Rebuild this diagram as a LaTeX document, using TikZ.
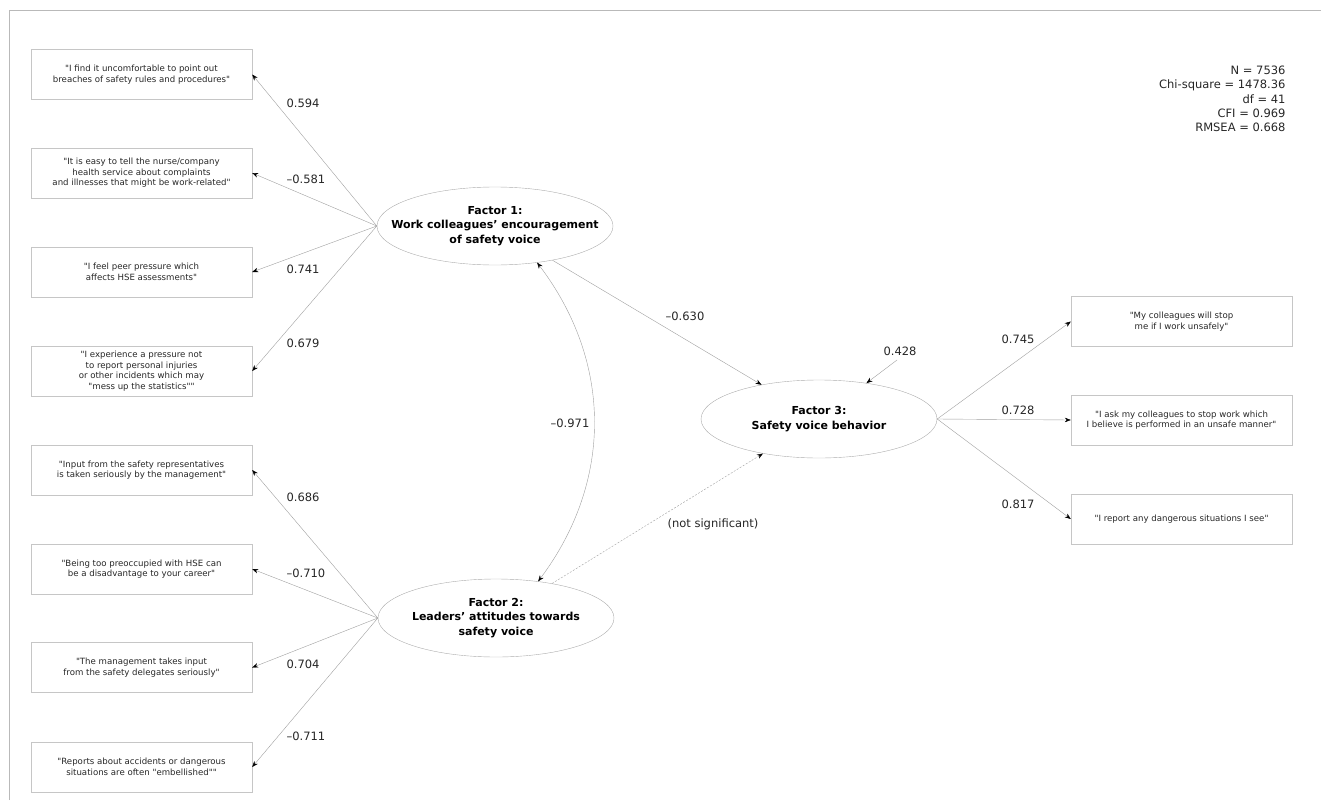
\documentclass[tikz,border=0pt]{standalone}
\usepackage{fontspec}
\setmainfont{DejaVu Sans}
\usetikzlibrary{shapes.geometric,arrows.meta}
\newcommand{\qmark}{\textquotedbl}

\begin{document}
\begin{tikzpicture}[x=1pt,y=-1pt,
  item/.style={draw=gray!45,minimum width=221pt,minimum height=50pt,
    inner sep=0pt,align=center,text=black!85,
    font=\fontsize{8.6}{10.5}\selectfont},
  factor/.style={draw=gray!65,ellipse,minimum width=236pt,
    minimum height=78pt,inner sep=0pt},
  factortext/.style={align=center,font=\fontsize{11}{14.5}\selectfont\bfseries},
  coef/.style={font=\fontsize{11.5}{14}\selectfont,text=black!85},
  load/.style={draw=gray!75,-{Stealth[length=6pt,width=4.5pt,black]}},
  cov/.style={draw=gray!75,{Stealth[length=6pt,width=4.5pt,black]}-{Stealth[length=6pt,width=4.5pt,black]}}]
  \useasboundingbox (0,0) rectangle (1321,800);
  \draw[gray!55] (9,800) -- (9,10) -- (1321,10);

  % fit statistics
  \node[coef,align=right,anchor=east,font=\fontsize{11.5}{14.4}\selectfont]
    (fit) at (1289,99) {N = 7536\\Chi-square = 1478.36\\df = 41\\CFI = 0.969\\RMSEA = 0.668};

  % factors
  \node[factor] (f1) at (495,226) {};
  \node[factortext] (f1t) at (f1) {Factor 1:\\Work colleagues’ encouragement\\of safety voice};
  \node[factor] (f2) at (496,618) {};
  \node[factortext] (f2t) at (f2) {Factor 2:\\Leaders’ attitudes towards\\safety voice};
  \node[factor] (f3) at (819,419) {};
  \node[factortext] (f3t) at (f3) {Factor 3:\\Safety voice behavior};

  % items of factor 1
  \node[item] (q1) at (141.5,74.5) {\qmark I find it uncomfortable to point out\\breaches of safety rules and procedures\qmark};
  \node[item] (q2) at (141.5,173) {\qmark It is easy to tell the nurse/company\\health service about complaints\\and illnesses that might be work-related\qmark};
  \node[item] (q3) at (141.5,272) {\qmark I feel peer pressure which\\affects HSE assessments\qmark};
  \node[item] (q4) at (141.5,371) {\qmark I experience a pressure not\\to report personal injuries\\or other incidents which may\\\qmark mess up the statistics\qmark\qmark};

  % items of factor 2
  \node[item] (q5) at (141.5,470) {\qmark Input from the safety representatives\\is taken seriously by the management\qmark};
  \node[item] (q6) at (141.5,569) {\qmark Being too preoccupied with HSE can\\be a disadvantage to your career\qmark};
  \node[item] (q7) at (141.5,667.5) {\qmark The management takes input\\from the safety delegates seriously\qmark};
  \node[item] (q8) at (141.5,767) {\qmark Reports about accidents or dangerous\\situations are often \qmark embellished\qmark\qmark};

  % items of factor 3
  \node[item] (q9) at (1181.5,321.5) {\qmark My colleagues will stop\\me if I work unsafely\qmark};
  \node[item] (q10) at (1181.5,420) {\qmark I ask my colleagues to stop work which\\I believe is performed in an unsafe manner\qmark};
  \node[item] (q11) at (1181.5,519) {\qmark I report any dangerous situations I see\qmark};

  % loadings
  \foreach \q in {q1,q2,q3,q4}
    \draw[load] (f1.west) -- (\q.east);
  \foreach \q in {q5,q6,q7,q8}
    \draw[load] (f2.west) -- (\q.east);
  \foreach \q in {q9,q10,q11}
    \draw[load] (f3.east) -- (\q.west);

  \node[coef,anchor=west] (l1) at (283,103) {0.594};
  \node[coef,anchor=west] (l2) at (283,179) {–0.581};
  \node[coef,anchor=west] (l3) at (283,269) {0.741};
  \node[coef,anchor=west] (l4) at (283,343) {0.679};
  \node[coef,anchor=west] (l5) at (283,497) {0.686};
  \node[coef,anchor=west] (l6) at (283,573) {–0.710};
  \node[coef,anchor=west] (l7) at (283,664) {0.704};
  \node[coef,anchor=west] (l8) at (283,736) {–0.711};
  \node[coef] (l9) at (1018,339) {0.745};
  \node[coef] (l10) at (1018,410) {0.728};
  \node[coef] (l11) at (1018,504) {0.817};

  % structural paths
  \draw[load] (f1) -- (f3);
  \node[coef] (b13) at (685,316) {–0.630};
  \draw[load,dash pattern=on 2pt off 1.5pt] (f2) -- (f3);
  \node[coef] (b23) at (713,524) {(not significant)};
  \draw[cov] (f1.-41) to[bend left=37] (f2.41);
  \node[coef] (r12) at (570,423) {–0.971};
  \coordinate (e3) at (897,360);
  \draw[load] (e3) -- (f3);
  \node[coef] (res3) at (900,351) {0.428};
\end{tikzpicture}
\end{document}
